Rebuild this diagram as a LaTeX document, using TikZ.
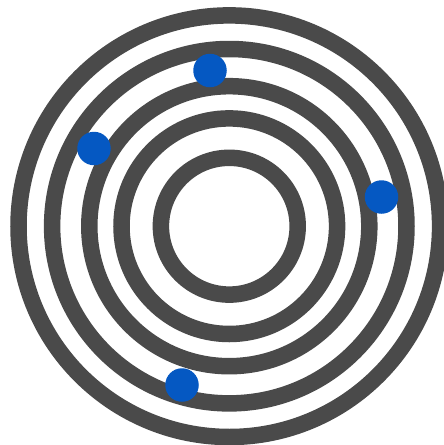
\documentclass[tikz,border=0pt]{standalone}
\usepackage{tikz}
\usetikzlibrary{positioning}
\definecolor{ringgray}{RGB}{74,74,74}
\definecolor{dotblue}{RGB}{5,88,194}
\tikzset{
  % concentric track
  ring/.style   = {draw=ringgray, line width=16.5pt},
  % blue marker on a track gap
  marker/.style = {circle, fill=dotblue, draw=none, inner sep=0pt,
                   minimum size=33.5pt},
}
\begin{document}
\begin{tikzpicture}[x=1pt,y=-1pt]

  \useasboundingbox (0,0) rectangle (444,445);
  \clip (0,0) rectangle (444,445);

  \coordinate (c) at (229.3,226.2);

  % the tracks
  \foreach \r in {210.8, 177.2, 140, 107.8, 68.4} {
    \draw[ring] (c) circle[radius=\r];
  }

  % markers
  \node[marker] (mtop)   at (210,70.5)  {};
  \node[marker] (mleft)  at (94,148.5)  {};
  \node[marker] (mright) at (381.5,197) {};
  \node[marker] (mbot)   at (182,385)   {};

\end{tikzpicture}
\end{document}
